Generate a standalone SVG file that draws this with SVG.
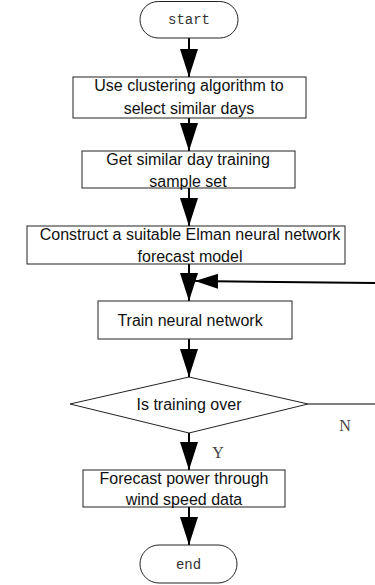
<svg xmlns="http://www.w3.org/2000/svg" width="375" height="585" viewBox="0 0 375 585">
<style>
.box{fill:#fff;stroke:#222;stroke-width:1}
.t{font-family:"Liberation Sans",Arial,sans-serif;font-size:16px;fill:#111;text-anchor:middle}
.term{font-family:"Liberation Mono","DejaVu Sans Mono",monospace;font-size:14px;fill:#333;text-anchor:middle}
.lbl{font-family:"Liberation Serif",serif;font-size:16px;fill:#444;text-anchor:middle}
.c{stroke:#000;stroke-width:2;fill:none}
.thin{stroke:#000;stroke-width:1;fill:none}
</style>
<defs>
<marker id="ah" markerUnits="userSpaceOnUse" markerWidth="28" markerHeight="18" viewBox="0 0 28 18" refX="28" refY="9" orient="auto">
<path d="M0,0 L28,9 L0,18 z" fill="#000"/>
</marker>
<marker id="ahs" markerUnits="userSpaceOnUse" markerWidth="23" markerHeight="15" viewBox="0 0 23 15" refX="23" refY="7.5" orient="auto">
<path d="M0,0 L23,7.5 L0,15 z" fill="#000"/>
</marker>
</defs>
<g id="connectors">
<line class="c" x1="189" y1="38" x2="189" y2="77" marker-end="url(#ah)"/>
<line class="c" x1="189" y1="118" x2="189" y2="151" marker-end="url(#ah)"/>
<line class="c" x1="189" y1="188" x2="189" y2="226" marker-end="url(#ah)"/>
<line class="c" x1="189" y1="264" x2="189" y2="301" marker-end="url(#ah)"/>
<line class="c" x1="189" y1="339" x2="189" y2="377" marker-end="url(#ah)"/>
<line class="c" x1="189" y1="433" x2="189" y2="470" marker-end="url(#ah)"/>
<line class="c" x1="189" y1="507" x2="189" y2="545" marker-end="url(#ah)"/>
<line class="c" x1="376" y1="283" x2="195" y2="281" marker-end="url(#ahs)"/>
<line class="thin" x1="308" y1="404" x2="376" y2="404"/>
<text class="lbl" x="345" y="431">N</text>
<text class="lbl" x="218" y="458">Y</text>
</g>
<g id="start">
<rect class="box" x="140" y="1.5" width="98" height="36.5" rx="18.25"/>
<text class="term" x="189" y="24">start</text>
</g>
<g id="cluster">
<rect class="box" x="73" y="77" width="233" height="41"/>
<text class="t" x="189" y="91">Use clustering algorithm to</text>
<text class="t" x="189" y="114">select similar days</text>
</g>
<g id="sample">
<rect class="box" x="82" y="151" width="213" height="37"/>
<text class="t" x="188" y="165">Get similar day training</text>
<text class="t" x="188" y="187">sample set</text>
</g>
<g id="construct">
<rect class="box" x="27" y="226" width="318" height="38"/>
<text class="t" x="190" y="240">Construct a suitable Elman neural network</text>
<text class="t" x="190" y="262">forecast model</text>
</g>
<g id="train">
<rect class="box" x="98" y="301" width="194" height="38"/>
<text class="t" x="190" y="326">Train neural network</text>
</g>
<g id="decision">
<polygon class="box" points="189,377 308,404 189,433 70,404"/>
<text class="t" x="189" y="410">Is training over</text>
</g>
<g id="forecast">
<rect class="box" x="83" y="470" width="202" height="37"/>
<text class="t" x="184" y="484">Forecast power through</text>
<text class="t" x="184" y="505">wind speed data</text>
</g>
<g id="end">
<rect class="box" x="140" y="545" width="97" height="38" rx="19"/>
<text class="term" x="188.5" y="569">end</text>
</g>
</svg>
